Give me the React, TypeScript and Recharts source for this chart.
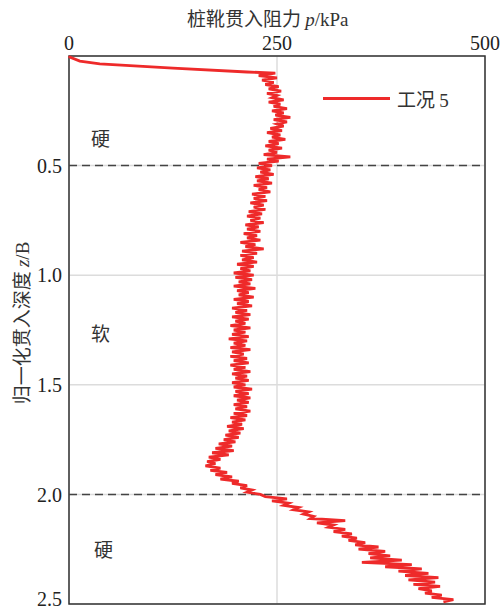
import {
  CartesianGrid,
  Line,
  LineChart,
  ReferenceArea,
  ReferenceLine,
  XAxis,
  YAxis,
} from 'recharts'

// [z/B, p (kPa)]
const entry: number[][] = [
  [0, 0], [0.005, 1], [0.023, 13], [0.036, 37], [0.055, 125], [0.073, 214], [0.078, 248],
]

const upperHard: number[][] = [
  [0.08, 244], [0.09, 228], [0.1, 250], [0.11, 232], [0.12, 246], [0.13, 236], [0.14, 252], [0.15, 240],
  [0.16, 255], [0.17, 238], [0.18, 250], [0.19, 244], [0.2, 258], [0.21, 240], [0.22, 254], [0.23, 246],
  [0.24, 262], [0.25, 244], [0.26, 258], [0.27, 248], [0.28, 266], [0.29, 246], [0.3, 262], [0.31, 250],
  [0.32, 258], [0.33, 242], [0.34, 256], [0.35, 238], [0.36, 254], [0.37, 244], [0.38, 260], [0.39, 240],
  [0.4, 252], [0.41, 236], [0.42, 256], [0.43, 240], [0.44, 250], [0.45, 234], [0.46, 266], [0.47, 238],
  [0.48, 252], [0.49, 228],
]

const softLayer: number[][] = [
  [0.5, 244], [0.51, 226], [0.52, 242], [0.53, 230], [0.54, 246], [0.55, 224], [0.56, 240], [0.57, 226],
  [0.58, 244], [0.59, 222], [0.6, 238], [0.61, 228], [0.62, 242], [0.63, 220], [0.64, 236], [0.65, 222],
  [0.66, 238], [0.67, 218], [0.68, 234], [0.69, 222], [0.7, 236], [0.71, 216], [0.72, 232], [0.73, 214],
  [0.74, 230], [0.75, 218], [0.76, 234], [0.77, 212], [0.78, 228], [0.79, 214], [0.8, 230], [0.81, 210],
  [0.82, 226], [0.83, 214], [0.84, 230], [0.85, 206], [0.86, 224], [0.87, 212], [0.88, 234], [0.89, 208],
  [0.9, 226], [0.91, 206], [0.92, 222], [0.93, 208], [0.94, 226], [0.95, 202], [0.96, 222], [0.97, 206],
  [0.98, 218], [0.99, 198], [1.0, 222], [1.01, 200], [1.02, 220], [1.03, 204], [1.04, 218], [1.05, 198],
  [1.06, 224], [1.07, 202], [1.08, 216], [1.09, 204], [1.1, 222], [1.11, 198], [1.12, 216], [1.13, 202],
  [1.14, 220], [1.15, 196], [1.16, 214], [1.17, 200], [1.18, 218], [1.19, 196], [1.2, 216], [1.21, 200],
  [1.22, 212], [1.23, 194], [1.24, 218], [1.25, 198], [1.26, 212], [1.27, 196], [1.28, 216], [1.29, 192],
  [1.3, 214], [1.31, 198], [1.32, 212], [1.33, 194], [1.34, 218], [1.35, 196], [1.36, 210], [1.37, 194],
  [1.38, 214], [1.39, 198], [1.4, 216], [1.41, 194], [1.42, 212], [1.43, 198], [1.44, 218], [1.45, 196],
  [1.46, 214], [1.47, 200], [1.48, 216], [1.49, 196], [1.5, 212], [1.51, 198], [1.52, 220], [1.53, 200],
  [1.54, 216], [1.55, 198], [1.56, 218], [1.57, 202], [1.58, 216], [1.59, 198], [1.6, 214], [1.61, 200],
  [1.62, 218], [1.63, 198], [1.64, 214], [1.65, 194], [1.66, 212], [1.67, 196], [1.68, 208], [1.69, 190],
  [1.7, 210], [1.71, 192], [1.72, 206], [1.73, 188], [1.74, 204], [1.75, 186], [1.76, 200], [1.77, 180],
  [1.78, 196], [1.79, 176], [1.8, 198], [1.81, 172], [1.82, 192], [1.83, 168], [1.84, 182], [1.85, 166],
  [1.86, 176], [1.87, 164], [1.88, 182], [1.89, 170], [1.9, 190], [1.91, 176], [1.92, 196], [1.93, 182],
  [1.94, 204], [1.95, 196], [1.96, 214], [1.97, 206], [1.98, 220], [1.99, 214],
]

const lowerHard: number[][] = [
  [2.0, 230], [2.01, 236], [2.02, 262], [2.03, 244], [2.04, 264], [2.05, 258], [2.06, 276], [2.07, 270],
  [2.08, 288], [2.09, 282], [2.1, 294], [2.11, 290], [2.12, 332], [2.13, 298], [2.14, 318], [2.15, 312],
  [2.16, 332], [2.17, 318], [2.18, 340], [2.19, 328], [2.2, 346], [2.21, 336], [2.22, 356], [2.23, 344],
  [2.24, 372], [2.25, 348], [2.26, 380], [2.27, 360], [2.28, 386], [2.29, 362], [2.3, 400], [2.31, 352],
  [2.32, 412], [2.33, 380], [2.34, 424], [2.35, 396], [2.36, 432], [2.37, 404], [2.38, 444], [2.39, 408],
  [2.4, 440], [2.41, 414], [2.42, 446], [2.43, 420], [2.44, 436], [2.45, 428], [2.46, 448], [2.47, 436],
  [2.48, 462], [2.49, 450],
]

const xTicks = [0, 250, 500]
const yTicks = [0, 0.5, 1, 1.5, 2, 2.5]
const layerBounds = [0.5, 2.0]

const data = [...entry, ...upperHard, ...softLayer, ...lowerHard].map(([z, p]) => ({ z, p }))

const serif = '"Liberation Serif", "Times New Roman", serif'
const cjk = '"Noto Sans CJK SC", sans-serif'
const tick = { fontSize: 20, fontFamily: serif, fill: '#222' }
const red = '#ee2a2a'

const abs = (left: number, top: number, extra: React.CSSProperties = {}): React.CSSProperties => ({
  position: 'absolute',
  left,
  top,
  whiteSpace: 'nowrap',
  color: '#333',
  ...extra,
})

export default function App() {
  return (
    <div style={{ position: 'absolute', left: 0, top: 0, width: 500, height: 610, background: '#fff' }}>
      <LineChart
        width={500}
        height={610}
        data={data}
        layout="vertical"
        style={{ fontFamily: serif }}
        margin={{ top: 0, right: 15, bottom: 6, left: 0 }}
      >
        <CartesianGrid stroke="#dcdcdc" strokeWidth={1.5} />
        <XAxis
          type="number"
          dataKey="p"
          orientation="top"
          domain={[0, 500]}
          ticks={xTicks}
          height={56}
          tick={tick}
          tickLine={false}
          tickSize={6}
          tickMargin={0}
          axisLine={false}
        />
        <YAxis
          type="number"
          dataKey="z"
          domain={[0, 2.5]}
          ticks={yTicks}
          width={69}
          tick={tick}
          tickLine={false}
          tickSize={6}
          tickMargin={1}
          axisLine={false}
          tickFormatter={(v: number) => (v === 0 ? '' : v.toFixed(1))}
        />
        {layerBounds.map((y) => (
          <ReferenceLine key={y} y={y} stroke="#444" strokeWidth={1.5} strokeDasharray="8 5" />
        ))}
        <ReferenceArea x1={0} x2={500} y1={0} y2={2.5} fill="none" stroke="#333" strokeWidth={1.5} />
        <Line
          dataKey="p"
          type="linear"
          stroke={red}
          strokeWidth={2.8}
          dot={false}
          isAnimationActive={false}
        />
      </LineChart>

      <div style={abs(187, 4, { fontSize: 19, fontFamily: cjk })}>
        桩靴贯入阻力 <span style={{ fontFamily: serif, fontStyle: 'italic' }}>p</span>
        <span style={{ fontFamily: serif }}>/kPa</span>
      </div>

      <div
        style={abs(20, 323, {
          fontSize: 19,
          fontFamily: cjk,
          transform: 'translate(-50%, -50%) rotate(-90deg)',
        })}
      >
        归一化贯入深度 <span style={{ fontFamily: serif, fontStyle: 'italic' }}>z</span>
        <span style={{ fontFamily: serif }}>/B</span>
      </div>

      <div style={abs(91, 124, { fontSize: 19, fontFamily: cjk })}>硬</div>
      <div style={abs(91, 319, { fontSize: 19, fontFamily: cjk })}>软</div>
      <div style={abs(94, 535, { fontSize: 19, fontFamily: cjk })}>硬</div>

      <div style={abs(323, 97, { width: 67, height: 3, background: red })} />
      <div style={abs(397, 85, { fontSize: 19, fontFamily: cjk })}>
        工况 <span style={{ fontFamily: serif }}>5</span>
      </div>
    </div>
  )
}
